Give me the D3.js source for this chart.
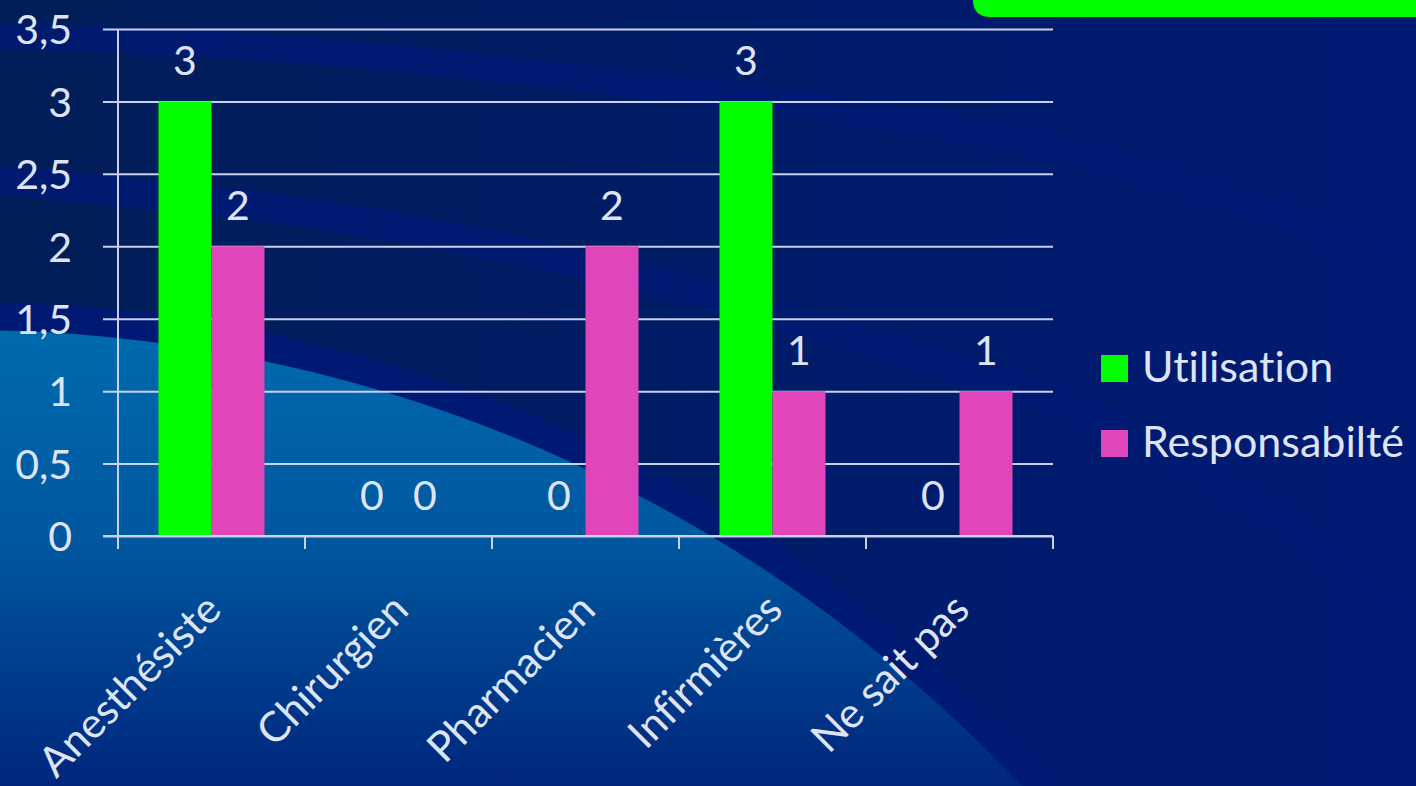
<!DOCTYPE html>
<html>
<head>
<meta charset="utf-8">
<script src="https://cdn.jsdelivr.net/npm/d3@7"></script>
<style>
  html, body { margin: 0; padding: 0; background: #011e5c; overflow: hidden; }
  text { font-family: Lato, "Open Sans", sans-serif; fill: #dde4f8; font-variant-ligatures: none; }
</style>
</head>
<body>
<script>
// chart data
var categories = ["Anesthésiste", "Chirurgien", "Pharmacien", "Infirmières", "Ne sait pas"];
var seriesNames = ["Utilisation", "Responsabilté"];
var utilisation = [3, 0, 0, 3, 0];
var responsabilite = [2, 0, 2, 1, 1];
var yTicks = [0, 0.5, 1, 1.5, 2, 2.5, 3, 3.5];
var seriesColors = ["#00ff00", "#e046b9"];

var W = 1416, H = 786;
var margin = {top: 29, left: 118, right: 363, bottom: 250};
var plotW = W - margin.left - margin.right,   // 935
    plotH = H - margin.top - margin.bottom;   // 507

var svg = d3.select("body").append("svg")
    .attr("width", W)
    .attr("height", H);

// ---- background decoration (slide template) ----
var defs = svg.append("defs");
var bgGrad = defs.append("linearGradient").attr("id", "bg")
    .attr("x1", 0).attr("y1", 0).attr("x2", 1).attr("y2", 0);
bgGrad.append("stop").attr("offset", "0%").attr("stop-color", "#021e58");
bgGrad.append("stop").attr("offset", "75%").attr("stop-color", "#001b6e");
bgGrad.append("stop").attr("offset", "100%").attr("stop-color", "#001a72");

var blobGrad = defs.append("linearGradient").attr("id", "blob")
    .attr("gradientUnits", "userSpaceOnUse")
    .attr("x1", 0).attr("y1", 330).attr("x2", 0).attr("y2", 786);
blobGrad.append("stop").attr("offset", "0%").attr("stop-color", "#006aae");
blobGrad.append("stop").attr("offset", "45%").attr("stop-color", "#0058a0");
blobGrad.append("stop").attr("offset", "100%").attr("stop-color", "#00267c");

svg.append("rect").attr("width", W).attr("height", H).attr("fill", "url(#bg)");

var bandLine = d3.line().curve(d3.curveCatmullRom);
var bands = [
  {w: 27, pts: [[-20, 35], [300, 50], [600, 80], [850, 112], [1065, 150], [1339, 233], [1440, 262]]},
  {w: 30, pts: [[-20, 179], [300, 212], [600, 268], [883, 347], [1065, 405], [1250, 500], [1440, 635]]}
];
svg.append("g").selectAll("path")
    .data(bands)
  .enter().append("path")
    .attr("d", function(d) { return bandLine(d.pts); })
    .attr("fill", "none")
    .attr("stroke", "#001a74")
    .attr("stroke-opacity", 0.85)
    .attr("stroke-width", function(d) { return d.w; });

// big light circle bottom-left with its dark ring
svg.append("circle").attr("cx", -34).attr("cy", 1780).attr("r", 1478)
    .attr("fill", "#001a74");
svg.append("circle").attr("cx", -34).attr("cy", 1780).attr("r", 1450)
    .attr("fill", "url(#blob)");

// green tab top right
svg.append("path")
    .attr("d", "M973,-5 L973,0 Q973,17 991,17 L1420,17 L1420,-5 Z")
    .attr("fill", "#00ff00");

// ---- chart ----
var g = svg.append("g")
    .attr("transform", "translate(" + margin.left + "," + margin.top + ")");

var x0 = d3.scaleBand().domain(categories).range([0, plotW]);
var x1 = d3.scaleBand().domain(seriesNames)
    .range([x0.bandwidth() * 0.2166, x0.bandwidth() * 0.7834]);
var y = d3.scaleLinear().domain([0, 3.5]).range([plotH, 0]);

var comma = function(v) { return d3.format(".1~f")(v).replace(".", ","); };

// gridlines + y ticks
var yAxis = d3.axisLeft(y)
    .tickValues(yTicks)
    .tickSize(-plotW)
    .tickPadding(46)
    .tickFormat(comma);
var yg = g.append("g").call(yAxis);
yg.select(".domain").remove();
yg.selectAll(".tick line")
    .attr("x1", -15)
    .attr("stroke", "#c9d1ef")
    .attr("stroke-width", 2);
yg.selectAll(".tick text")
    .style("font-size", "41px")
    .attr("dy", "0.36em");
g.append("line")
    .attr("x1", 0).attr("x2", 0).attr("y1", 0).attr("y2", plotH)
    .attr("stroke", "#c9d1ef").attr("stroke-width", 2);

// bars
var rows = categories.map(function(c, i) {
  return {cat: c, vals: [
    {name: seriesNames[0], v: utilisation[i]},
    {name: seriesNames[1], v: responsabilite[i]}
  ]};
});

var grp = g.append("g").selectAll("g")
    .data(rows)
  .enter().append("g")
    .attr("transform", function(d) { return "translate(" + x0(d.cat) + ",0)"; });

grp.selectAll("rect")
    .data(function(d) { return d.vals; })
  .enter().append("rect")
    .attr("x", function(d) { return x1(d.name); })
    .attr("width", x1.bandwidth())
    .attr("y", function(d) { return y(d.v); })
    .attr("height", function(d) { return plotH - y(d.v); })
    .attr("fill", function(d, i) { return seriesColors[i]; });

grp.selectAll("text")
    .data(function(d) { return d.vals; })
  .enter().append("text")
    .attr("x", function(d) { return x1(d.name) + x1.bandwidth() / 2; })
    .attr("y", function(d) { return y(d.v) - 26; })
    .attr("text-anchor", "middle")
    .style("font-size", "41px")
    .text(function(d) { return d.v; });

// x axis
g.append("line")
    .attr("x1", -15).attr("x2", plotW).attr("y1", plotH).attr("y2", plotH)
    .attr("stroke", "#c9d1ef").attr("stroke-width", 2);
var tickPos = d3.range(categories.length + 1).map(function(i) { return i * x0.step(); });
g.append("g").selectAll("line")
    .data(tickPos)
  .enter().append("line")
    .attr("x1", function(d) { return d; }).attr("x2", function(d) { return d; })
    .attr("y1", plotH).attr("y2", plotH + 13)
    .attr("stroke", "#c9d1ef").attr("stroke-width", 2);

// rotated category labels
g.append("g").selectAll("text")
    .data(categories)
  .enter().append("text")
    .attr("text-anchor", "end")
    .style("font-size", "42px")
    .attr("transform", function(d) {
      return "translate(" + (x0(d) + x0.bandwidth() / 2 + 12) + "," + (plotH + 76) + ") rotate(-45)";
    })
    .text(function(d) { return d; });

// legend
var leg = svg.append("g").attr("transform", "translate(1101,355)");
var li = leg.selectAll("g")
    .data(seriesNames)
  .enter().append("g")
    .attr("transform", function(d, i) { return "translate(0," + (i * 75) + ")"; });
li.append("rect")
    .attr("width", 27).attr("height", 27)
    .attr("fill", function(d, i) { return seriesColors[i]; });
li.append("text")
    .attr("x", 41).attr("y", 27)
    .style("font-size", "43px")
    .text(function(d) { return d; });
</script>
</body>
</html>
